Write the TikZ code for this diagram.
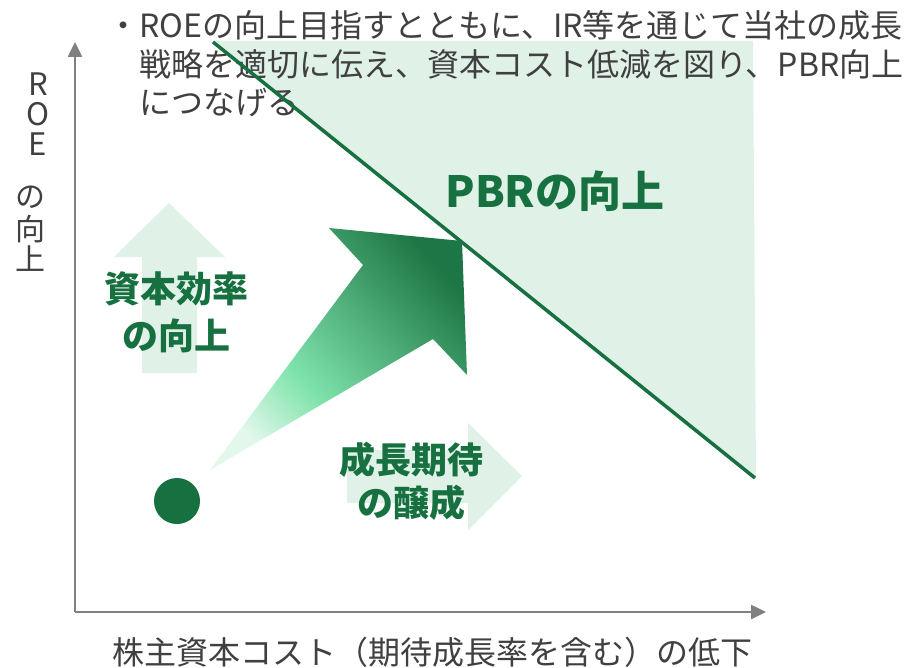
\documentclass[tikz,border=0pt]{standalone}
\usepackage{fontspec}
\setmainfont{Noto Sans CJK JP}
\usetikzlibrary{arrows.meta}
\definecolor{axisgray}{HTML}{808080}
\definecolor{txtgray}{HTML}{404040}
\definecolor{dgreen}{HTML}{17703F}
\definecolor{lgreen}{HTML}{E0F2E8}
\definecolor{gdark}{HTML}{1C7645}
\definecolor{gmid}{HTML}{80E3AC}
\definecolor{glight}{HTML}{E2F8EB}
\pgfdeclareverticalshading{arrowshade}{100bp}{color(0bp)=(glight); color(25bp)=(glight); color(40bp)=(gmid); color(76bp)=(gdark); color(100bp)=(gdark)}
\tikzset{
  topline/.style={font=\fontsize{32}{38}\selectfont, text=txtgray, anchor=west, inner sep=0pt},
  greenlbl/.style={font=\fontsize{36}{40}\selectfont\bfseries, text=dgreen, inner sep=0pt},
  ylbl/.style={font=\fontsize{30}{30}\selectfont, text=txtgray, inner sep=0pt},
  ylatin/.style={ylbl, font=\fontsize{31}{31}\selectfont, text height=0.72em, text depth=0pt},
  axisline/.style={draw=axisgray, line width=2.5pt, -{Triangle[width=14pt,length=15pt]}},
  softarrow/.style={fill=lgreen}
}
\begin{document}
\begin{tikzpicture}[x=1pt,y=-1pt]
\useasboundingbox (0,0) rectangle (912,668);
\fill[white] (0,0) rectangle (912,668);

% shaded PBR region
\coordinate (ls) at (213,42);
\coordinate (le) at (755,478);
\fill[lgreen] (213,41) -- (753,41) -- (756,478) -- (le) -- cycle;

% axes
\coordinate (o) at (75,612);
\coordinate (ytip) at (75,42);
\coordinate (xtip) at (766,612);
\draw[axisline] (o) -- (ytip);
\draw[axisline] (o) -- (xtip);

% top text
\node[topline] (t1) at (107,25) {・ROEの向上目指すとともに、IR等を通じて当社の成長};
\node[topline] (t2) at (139,64) {戦略を適切に伝え、資本コスト低減を図り、PBR向上};
\node[topline] (t3) at (139,103) {につなげる};

% diagonal line
\draw[dgreen, line width=3.5pt] (ls) -- (le);

% up arrow
\fill[softarrow] (169,203) -- (225,257) -- (197,257) -- (197,373) -- (142,373) -- (142,257) -- (114,257) -- cycle;
% right arrow
\fill[softarrow] (347,450) -- (468,450) -- (468,423) -- (522,476) -- (468,530) -- (468,503) -- (347,503) -- cycle;

% big gradient arrow
\shade[shading=arrowshade, shading angle=-48] (210,470) -- (363,265) -- (329,228) -- (462,241) -- (467,375) -- (433,339) -- cycle;

% dot
\fill[dgreen] (177,501) circle[radius=23pt];

% green labels
\node[greenlbl, font=\fontsize{43}{48}\selectfont\bfseries] (pbr) at (555,191) {PBRの向上};
\node[greenlbl] (se1) at (176,289) {資本効率};
\node[greenlbl] (se2) at (176,336) {の向上};
\node[greenlbl] (gk1) at (411,460) {成長期待};
\node[greenlbl] (gk2) at (411,503) {の醸成};

% y label
\node[ylatin] (y1) at (38,92) {R};
\node[ylatin] (y2) at (38,122) {O};
\node[ylatin] (y3) at (38,152) {E};
\node[ylbl] (y4) at (30,197) {の};
\node[ylbl] (y5) at (30,229) {向};
\node[ylbl] (y6) at (30,259) {上};

% x label
\node[font=\fontsize{32}{38}\selectfont, text=txtgray, inner sep=0pt] (xl) at (432,652) {株主資本コスト（期待成長率を含む）の低下};
\end{tikzpicture}
\end{document}
